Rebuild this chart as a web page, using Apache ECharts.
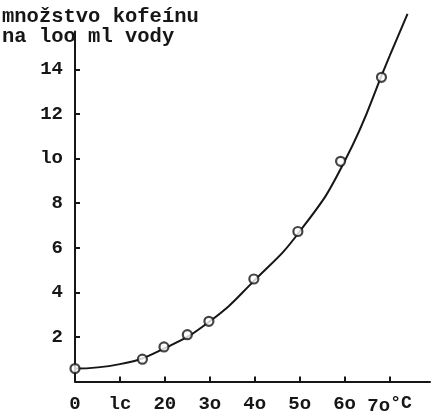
<!DOCTYPE html>
<html>
<head>
<meta charset="utf-8">
<script src="https://cdn.jsdelivr.net/npm/echarts@6/dist/echarts.min.js"></script>
<style>html,body{margin:0;padding:0;background:#fff;}#c{width:434px;height:416px;}</style>
</head>
<body>
<div id="c"></div>
<script>
// Data
var xTickValues = [0, 10, 20, 30, 40, 50, 60, 70];
var xTickLabels = ['0', 'lc', '20', '3o', '4o', '5o', '6o', '7o'];
var yTickValues = [2, 4, 6, 8, 10, 12, 14];
var yTickLabels = ['2', '4', '6', '8', 'lo', '12', '14'];
var measuredPoints = [[0, 0.58], [15, 1.0], [19.8, 1.55], [25, 2.1], [29.8, 2.7], [39.8, 4.6], [49.6, 6.73], [59.1, 9.88], [68.2, 13.65]];
var fittedCurve = [[0, 0.58], [10, 0.78], [20, 1.5], [30, 2.7], [40, 4.55], [50, 6.73], [60, 9.88], [70, 14.6], [74, 16.5]];
var yTitle = 'množstvo kofeínu\nna loo ml vody';
var xUnit = '°C';

var ink = '#161616';
var font = '"Liberation Mono", "DejaVu Sans Mono", monospace';

var chart = echarts.init(document.getElementById('c'), null, {renderer: 'canvas'});
chart.setOption({
  backgroundColor: '#ffffff',
  animation: false,
  grid: {left: 75, right: 4, top: 31.6, bottom: 30, containLabel: false},
  xAxis: {
    type: 'value', min: 0, max: 79,
    axisLine: {show: true, onZero: false, lineStyle: {color: ink, width: 2}},
    axisTick: {show: true, inside: true, length: 5, lineStyle: {color: ink, width: 2}, customValues: xTickValues.slice(1)},
    axisLabel: {
      show: true, margin: 13, color: ink, fontFamily: font, fontWeight: 'bold', fontSize: 19,
      customValues: xTickValues,
      formatter: function (v) {
        var i = xTickValues.indexOf(v);
        if (i < 0) return '';
        if (i === xTickValues.length - 1) return xTickLabels[i] + '{u|' + xUnit + '}';
        return xTickLabels[i];
      },
      rich: {u: {fontFamily: font, fontWeight: 'bold', fontSize: 18, color: ink, verticalAlign: 'bottom', padding: [0, 0, 6, 0]}}
    },
    splitLine: {show: false}
  },
  yAxis: {
    type: 'value', min: 0, max: 15.7,
    axisLine: {show: true, onZero: false, lineStyle: {color: ink, width: 2}},
    axisTick: {show: true, inside: true, length: 5, lineStyle: {color: ink, width: 2}, customValues: yTickValues},
    axisLabel: {
      show: true, margin: 12, color: ink, fontFamily: font, fontWeight: 'bold', fontSize: 19,
      customValues: yTickValues,
      formatter: function (v) {
        var i = yTickValues.indexOf(v);
        return i < 0 ? '' : yTickLabels[i];
      }
    },
    splitLine: {show: false}
  },
  graphic: [{
    type: 'text', left: 2, top: 6, z: 10,
    style: {text: yTitle, fill: ink, font: 'bold 20.5px ' + font, lineHeight: 20}
  }],
  series: [{
    type: 'line', data: fittedCurve, smooth: 0.5, showSymbol: false, clip: false,
    lineStyle: {color: ink, width: 2}, z: 2
  }, {
    type: 'scatter', data: measuredPoints, symbol: 'circle', symbolSize: 9, clip: false,
    itemStyle: {color: '#ffffff', borderColor: ink, borderWidth: 2.2}, z: 3
  }]
});
</script>
</body>
</html>
